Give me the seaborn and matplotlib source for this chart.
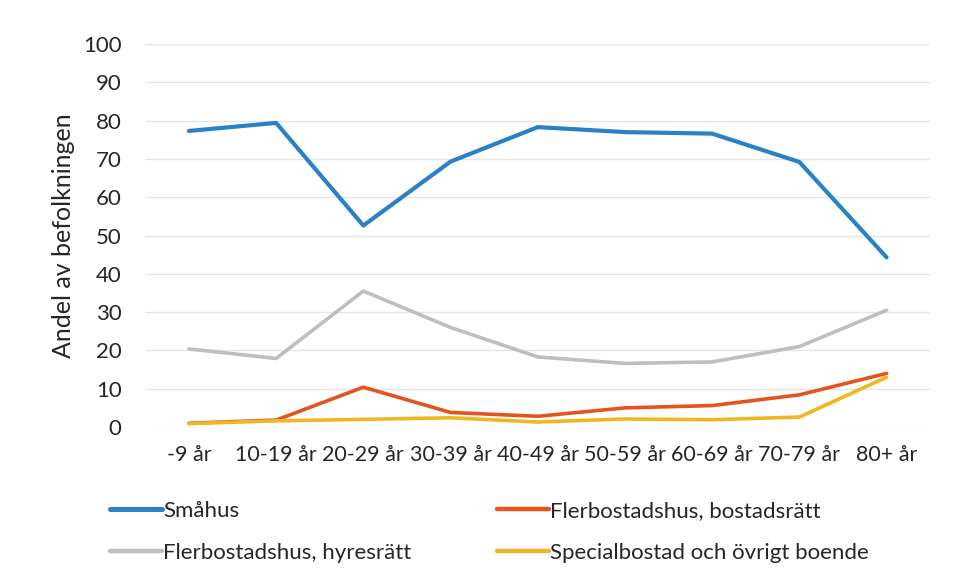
import numpy as np
import pandas as pd
import matplotlib
matplotlib.use("Agg")
import matplotlib.pyplot as plt
import seaborn as sns

age_groups = ["-9 år", "10-19 år", "20-29 år", "30-39 år", "40-49 år",
              "50-59 år", "60-69 år", "70-79 år", "80+ år"]
smahus = [77.3, 79.4, 52.6, 69.3, 78.3, 77.0, 76.6, 69.2, 44.3]
hyresratt = [20.4, 17.9, 35.5, 26.0, 18.3, 16.6, 17.0, 21.0, 30.5]
bostadsratt = [1.0, 1.8, 10.4, 3.8, 2.8, 5.0, 5.6, 8.4, 14.0]
specialbostad = [0.9, 1.6, 2.0, 2.4, 1.3, 2.1, 1.9, 2.6, 13.0]

series_names = ["Småhus", "Flerbostadshus, bostadsrätt",
                "Flerbostadshus, hyresrätt", "Specialbostad och övrigt boende"]
series_values = [smahus, bostadsratt, hyresratt, specialbostad]
colors = ["#2a82c6", "#e5531f", "#bfbfc3", "#f0b623"]
widths = [3.0, 2.6, 2.6, 2.6]

rows = []
for name, vals in zip(series_names, series_values):
    for i, v in enumerate(vals):
        rows.append({"pos": i, "age": age_groups[i], "serie": name, "andel": v})
df = pd.DataFrame(rows)

sns.set_theme(style="white")
plt.rcParams["font.family"] = ["Lato", "DejaVu Sans"]

fig = plt.figure(figsize=(9.56, 5.79), dpi=100)
ax = fig.add_axes([0.152, 0.2625, 0.821, 0.6615])

# draw in z-order: grey, blue, orange, yellow on top
order = [2, 0, 1, 3]
for k in order:
    sub = df[df["serie"] == series_names[k]]
    sns.lineplot(data=sub, x="pos", y="andel", color=colors[k],
                 linewidth=widths[k], ax=ax, legend=False, zorder=3 + k)

ax.set_xlim(-0.5, len(age_groups) - 0.5)
ax.set_ylim(0, 100)
ax.set_yticks(np.arange(0, 101, 10))
ax.set_xticks(range(len(age_groups)))
ax.set_xticklabels(age_groups, fontsize=15.5)
ax.tick_params(axis="y", labelsize=16, pad=17, length=0)
ax.tick_params(axis="x", pad=13, length=0)
ax.grid(axis="y", color="#e6e6e6", linewidth=1)
ax.set_axisbelow(True)
for s in ax.spines.values():
    s.set_visible(False)
ax.set_xlabel("")
ax.set_ylabel("Andel av befolkningen", fontsize=18, labelpad=6)

# two legend columns placed separately
def make_handle(k):
    return plt.Line2D([], [], color=colors[k], linewidth=widths[k] + 0.6)

for ks, x0 in [([0, 2], 110 / 956), ([1, 3], 497 / 956)]:
    leg = fig.legend([make_handle(k) for k in ks], [series_names[k] for k in ks],
                     loc="upper left", bbox_to_anchor=(x0, 1 - 501 / 579),
                     frameon=False, fontsize=16, borderpad=0, borderaxespad=0,
                     handlelength=2.35, handletextpad=0.05, labelspacing=1.0)

fig.savefig("out.png", dpi=100)
